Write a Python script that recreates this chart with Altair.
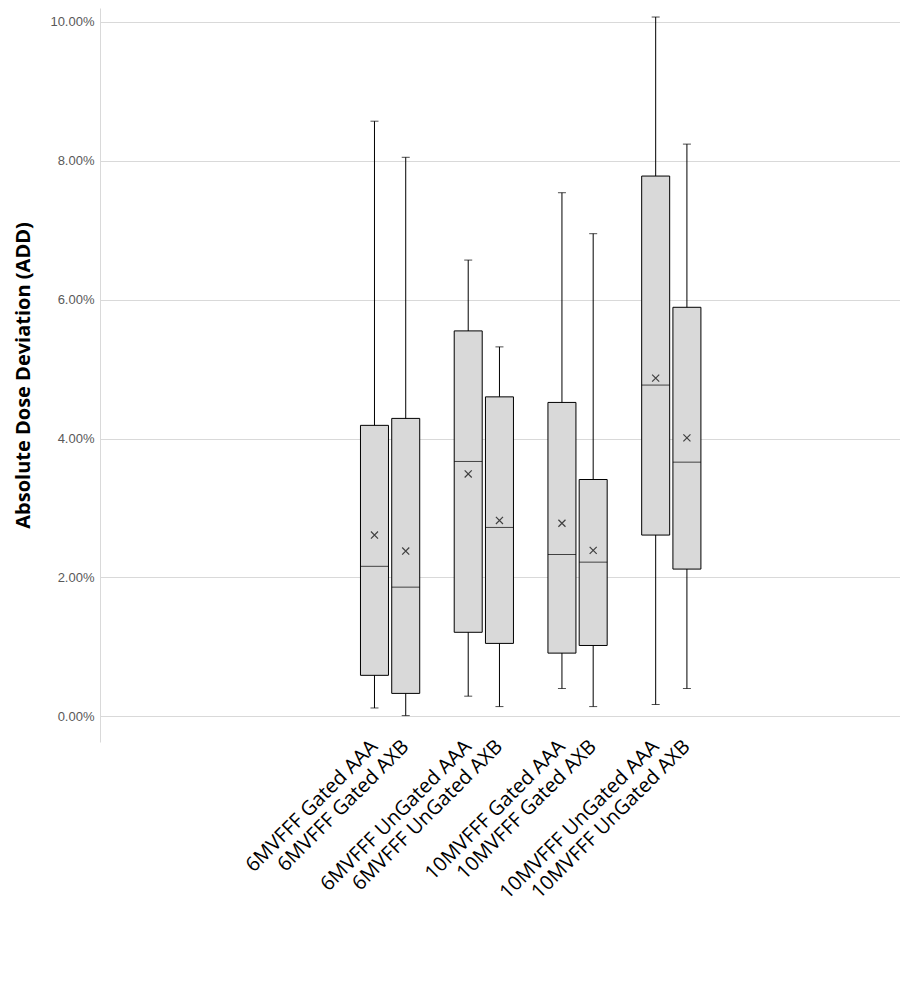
import pandas as pd
import altair as alt

groups = ["6MVFFF Gated AAA", "6MVFFF Gated AXB", "6MVFFF UnGated AAA", "6MVFFF UnGated AXB",
          "10MVFFF Gated AAA", "10MVFFF Gated AXB", "10MVFFF UnGated AAA", "10MVFFF UnGated AXB"]
pos = [0, 1, 3, 4, 6, 7, 9, 10]
lo = [0.0012, 0.0001, 0.0029, 0.0014, 0.0040, 0.0014, 0.0017, 0.0040]
q1 = [0.0059, 0.0033, 0.0121, 0.0105, 0.0091, 0.0102, 0.0261, 0.0212]
med = [0.0216, 0.0186, 0.0367, 0.0272, 0.0233, 0.0222, 0.0477, 0.0366]
q3 = [0.0419, 0.0429, 0.0555, 0.0460, 0.0452, 0.0341, 0.0778, 0.0589]
hi = [0.0857, 0.0805, 0.0657, 0.0532, 0.0754, 0.0695, 0.1007, 0.0824]
mean = [0.0261, 0.0238, 0.0349, 0.0282, 0.0278, 0.0239, 0.0487, 0.0401]

df = pd.DataFrame({"group": groups, "pos": pos, "lo": lo, "q1": q1, "med": med,
                   "q3": q3, "hi": hi, "mean": mean})

H = 734
xs = alt.Scale(domain=[-8.625, 16.66], nice=False, zero=False)
ys = alt.Scale(domain=[-0.0037, 0.1020], nice=False, zero=False)

base = alt.Chart(df).encode(x=alt.X("pos:Q", scale=xs, axis=None))

whisker = base.mark_rule(color="black", strokeWidth=1).encode(
    y=alt.Y("lo:Q", scale=ys, title="Absolute Dose Deviation (ADD)",
            axis=alt.Axis(format=".2%", values=[0, 0.02, 0.04, 0.06, 0.08, 0.10],
                          gridColor="#d9d9d9", domainColor="#d9d9d9", ticks=False,
                          labelFontSize=13, labelColor="#595959", labelPadding=6,
                          titleFontSize=20, titleFont="Open Sans", titleColor="black",
                          titlePadding=16)),
    y2="hi:Q")
cap_lo = base.mark_tick(color="black", size=8, thickness=1, orient="horizontal").encode(y=alt.Y("lo:Q", scale=ys))
cap_hi = base.mark_tick(color="black", size=8, thickness=1, orient="horizontal").encode(y=alt.Y("hi:Q", scale=ys))
box = base.mark_bar(width=28, fill="#d9d9d9", stroke="black", strokeWidth=1).encode(
    y=alt.Y("q1:Q", scale=ys), y2="q3:Q")
median = base.mark_tick(color="black", size=28, thickness=1, orient="horizontal").encode(y=alt.Y("med:Q", scale=ys))
mn = base.mark_point(shape="M-1,-1L1,1M1,-1L-1,1", size=50, stroke="black", strokeWidth=1.2).encode(
    y=alt.Y("mean:Q", scale=ys))
labels = base.mark_text(angle=315, align="right", baseline="middle", fontSize=20,
                        font="Open Sans", color="black", dx=-4, dy=4).encode(
    y=alt.value(H - 4), text="group:N")

chart = (whisker + cap_lo + cap_hi + box + median + mn + labels).properties(
    width=800, height=H, padding={"top": 0, "left": 5, "right": 0, "bottom": 5},
    title=alt.TitleParams("Figure 1      Absolute Dose Deviation (ADD) of the eight groups",
                          orient="bottom", font="Liberation Sans", fontSize=23,
                          fontWeight="normal", color="black", offset=180, anchor="middle",
                          dx=60)
).configure_view(stroke=None)

chart.save("out.html", embed_options={"renderer": "svg", "actions": False})
